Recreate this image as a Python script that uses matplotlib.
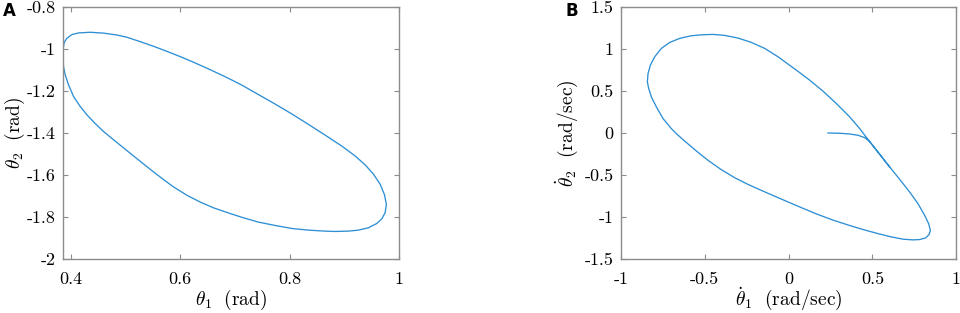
import numpy as np
import matplotlib
matplotlib.use("Agg")
import matplotlib.pyplot as plt

plt.rcParams['mathtext.fontset'] = 'cm'
plt.rcParams['axes.unicode_minus'] = False

# panel A: theta1 vs theta2 (rad), closed loop
th1 = [0.3856, 0.3878, 0.3926, 0.4018, 0.414, 0.4353, 0.4597, 0.484, 0.5023,
       0.5267, 0.5511, 0.5754, 0.5998, 0.6242, 0.6486, 0.6729, 0.6912,
       0.7126, 0.743, 0.7735, 0.804, 0.8344, 0.8649, 0.8954, 0.9198,
       0.938, 0.9533, 0.9655, 0.9734, 0.977, 0.9746, 0.9685, 0.9594, 0.9441,
       0.9258, 0.9075, 0.8832, 0.8649, 0.8344, 0.804, 0.7735, 0.743, 0.7126,
       0.6912, 0.6607, 0.6364, 0.612, 0.5876, 0.5693, 0.5511, 0.5328, 0.5145,
       0.4962, 0.4779, 0.4597, 0.4444, 0.4292, 0.417, 0.4048, 0.3957, 0.3896,
       0.3865, 0.3856, 0.385, 0.3856]
th2 = [-1.005, -0.970, -0.950, -0.9326, -0.9246, -0.9215, -0.9255, -0.9345, -0.9450,
       -0.9660, -0.9880, -1.0120, -1.0368, -1.0638, -1.0921, -1.1212, -1.1442,
       -1.1725, -1.2175, -1.2625, -1.3095, -1.3590, -1.4100, -1.4620, -1.5090,
       -1.5510, -1.5955, -1.6430, -1.6924, -1.7398, -1.7793, -1.8077, -1.8299, -1.8504,
       -1.8615, -1.8662, -1.8678, -1.8662, -1.8615, -1.8536, -1.8393, -1.8235, -1.8005,
       -1.7825, -1.7555, -1.7280, -1.6955, -1.6561, -1.6210, -1.5850, -1.5470, -1.5090,
       -1.4705, -1.4320, -1.3930, -1.3550, -1.3133, -1.2738, -1.2264, -1.1711, -1.1237,
       -1.0842, -1.0447, -1.025, -1.005]

# panel B: angular velocities (rad/sec), tail then limit cycle
dth1 = [0.2354, 0.3049, 0.3645, 0.4142, 0.4539, 0.4837, 0.5433, 0.6029, 0.6625,
        0.7221, 0.7718, 0.8115, 0.8354, 0.8453, 0.8373, 0.8174, 0.7817, 0.742,
        0.6824, 0.6029, 0.5234, 0.444, 0.3645, 0.2652, 0.1659, 0.0667, -0.0328,
        -0.0794, -0.1619, -0.2414, -0.3208, -0.4003, -0.4797, -0.5493, -0.6188,
        -0.6685, -0.6983, -0.7479, -0.7877, -0.8175, -0.8333, -0.8413, -0.8373,
        -0.8234, -0.7976, -0.7579, -0.7082, -0.6486, -0.5791, -0.5095, -0.45,
        -0.3804, -0.301, -0.2215, -0.1419, -0.0626, 0.0, 0.0467, 0.1261, 0.2056,
        0.285, 0.3645, 0.4241, 0.4738, 0.5433, 0.6029]
dth2 = [0.0004, -0.0036, -0.0115, -0.0274, -0.0551, -0.1030, -0.2536, -0.4044, -0.5510,
        -0.7020, -0.8409, -0.9798, -1.0790, -1.1583, -1.2060, -1.2456, -1.2655, -1.2694,
        -1.2615, -1.2298, -1.1901, -1.1464, -1.0988, -1.0350, -0.9610, -0.8785, -0.7935,
        -0.7535, -0.6821, -0.6107, -0.5313, -0.4360, -0.3250, -0.2140, -0.0960,
        -0.0080, 0.0520, 0.1711, 0.3099, 0.4289, 0.5282, 0.6075, 0.7068,
        0.8060, 0.9051, 1.0044, 1.0758, 1.1235, 1.1551, 1.1670, 1.1710,
        1.1592, 1.1274, 1.0758, 1.0044, 0.9051, 0.8139, 0.7464, 0.6274, 0.4964,
        0.3496, 0.1909, 0.0520, -0.0780, -0.2536, -0.4044]

line_col = '#2e8fd4'
spine_col = '#8c8c8c'

fig = plt.figure(figsize=(9.6, 3.13), dpi=100)
axA = fig.add_axes([0.0653, 0.1716, 0.3503, 0.807])
axB = fig.add_axes([0.6466, 0.1716, 0.3496, 0.807])

for ax in (axA, axB):
    for s in ax.spines.values():
        s.set_color(spine_col)
        s.set_linewidth(1.0)
    ax.tick_params(direction='in', length=3.5, width=0.8, color=spine_col,
                   top=True, right=True, labelcolor='black')
    ax.tick_params(axis='x', pad=9)
    ax.tick_params(axis='y', pad=5)

axA.plot(th1, th2, color=line_col, lw=0.95)
axA.set_xlim(0.385, 1.0)
axA.set_ylim(-2, -0.8)
axA.set_xticks([0.4, 0.6, 0.8, 1.0])
axA.set_xticklabels(['0.4', '0.6', '0.8', '1'], fontfamily='cmr10', fontsize=13)
axA.set_yticks([-2, -1.8, -1.6, -1.4, -1.2, -1, -0.8])
axA.set_yticklabels(['-2', '-1.8', '-1.6', '-1.4', '-1.2', '-1', '-0.8'],
                    fontfamily='cmr10', fontsize=13)
axA.set_xlabel(r'$\theta_1\ \ \mathrm{(rad)}$', fontsize=14, va='center')
axA.set_ylabel(r'$\theta_2\ \ \mathrm{(rad)}$', fontsize=14, va='center')
axA.xaxis.set_label_coords(0.5, -0.162)
axA.yaxis.set_label_coords(-0.142, 0.5)

axB.plot(dth1, dth2, color=line_col, lw=0.95)
axB.set_xlim(-1, 1)
axB.set_ylim(-1.5, 1.5)
axB.set_xticks([-1, -0.5, 0, 0.5, 1])
axB.set_xticklabels(['-1', '-0.5', '0', '0.5', '1'], fontfamily='cmr10', fontsize=13)
axB.set_yticks([-1.5, -1, -0.5, 0, 0.5, 1, 1.5])
axB.set_yticklabels(['-1.5', '-1', '-0.5', '0', '0.5', '1', '1.5'],
                    fontfamily='cmr10', fontsize=13)
axB.set_xlabel(r'$\dot{\theta}_1\ \ \mathrm{(rad/sec)}$', fontsize=14, va='center')
axB.set_ylabel(r'$\dot{\theta}_2\ \ \mathrm{(rad/sec)}$', fontsize=14, va='center')
axB.xaxis.set_label_coords(0.5, -0.157)
axB.yaxis.set_label_coords(-0.16, 0.5)

fig.text(0.003, 0.965, 'A', fontsize=12, fontweight='bold', ha='left', va='center')
fig.text(0.589, 0.965, 'B', fontsize=12, fontweight='bold', ha='left', va='center')

fig.savefig('out.png', dpi=100)
plt.close(fig)
